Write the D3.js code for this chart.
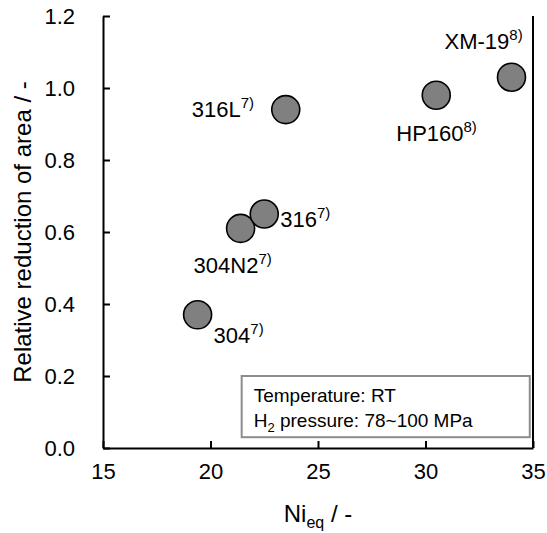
<!DOCTYPE html>
<html>
<head>
<meta charset="utf-8">
<script src="https://cdn.jsdelivr.net/npm/d3@7"></script>
<style>
  body { margin: 0; background: #fff; }
  text { font-family: "Liberation Sans", Arial, sans-serif; fill: #000; }
</style>
</head>
<body>
<div id="content"></div>
<script>
// Data.
var names = ['304', '304N2', '316', '316L', 'HP160', 'XM-19'];
var refs = ['7)', '7)', '7)', '7)', '8)', '8)'];
var nieq = [19.4, 21.4, 22.5, 23.5, 30.5, 34.0];
var rra = [0.37, 0.61, 0.65, 0.94, 0.98, 1.03];
var xTicks = [15, 20, 25, 30, 35];
var yTicks = [0, 0.2, 0.4, 0.6, 0.8, 1.0, 1.2];
var legendLines = ['Temperature: RT', 'H2 pressure: 78~100 MPa'];

// Label offsets relative to the point centre.
var labelPos = {
  '304':   {dx: 16, dy: 28},
  '304N2': {dx: -47, dy: 45},
  '316':   {dx: 16, dy: 13},
  '316L':  {dx: -94, dy: 7},
  'HP160': {dx: -40, dy: 46},
  'XM-19': {dx: -67, dy: -28}
};

var margin = {left : 103, right : 14, top : 16, bottom : 85};
var width = 547 - margin.left - margin.right;
var height = 533 - margin.top - margin.bottom;

var svg = d3.select('#content')
              .append('svg')
              .attr('width', width + margin.left + margin.right)
              .attr('height', height + margin.top + margin.bottom);

var g = svg.append('g').attr('transform', 'translate(' + margin.left + ',' +
                                              margin.top + ')');

var x = d3.scaleLinear().domain([15, 35]).range([0, width]);
var y = d3.scaleLinear().domain([0, 1.2]).range([height, 0]);

// Axes, ticks point inwards.
var xAxis = g.append('g')
    .attr('transform', 'translate(0,' + height + ')')
    .call(d3.axisBottom(x).tickValues(xTicks).tickSizeInner(-7).tickSizeOuter(0)
            .tickPadding(15));
var yAxis = g.append('g')
    .call(d3.axisLeft(y).tickValues(yTicks).tickSizeInner(-7).tickSizeOuter(0)
            .tickPadding(28).tickFormat(d3.format('.1f')));

[xAxis, yAxis].forEach(function(a) {
  a.select('.domain').attr('stroke', '#000').attr('stroke-width', 2);
  a.selectAll('.tick line').attr('stroke', '#000').attr('stroke-width', 2);
  a.selectAll('.tick text').style('font-size', '22px').attr('fill', '#000');
});
xAxis.selectAll('.tick text').attr('dy', '0.71em');

// Right border
g.append('line')
    .attr('x1', width).attr('x2', width)
    .attr('y1', 0).attr('y2', height)
    .attr('stroke', '#000').attr('stroke-width', 2);

// Legend box
var lg = g.append('g');
lg.append('rect')
    .attr('x', x(21.45)).attr('y', y(0.2))
    .attr('width', x(34.85) - x(21.45)).attr('height', y(0.03) - y(0.2))
    .attr('fill', '#fff').attr('stroke', '#8c8c8c').attr('stroke-width', 2);
lg.append('text')
    .attr('x', x(21.45) + 12).attr('y', y(0.2) + 26)
    .style('font-size', '19px')
    .text(legendLines[0]);
var l2 = lg.append('text')
    .attr('x', x(21.45) + 12).attr('y', y(0.2) + 51)
    .style('font-size', '19px');
l2.append('tspan').text('H');
l2.append('tspan').attr('dy', 5).style('font-size', '13px').text('2');
l2.append('tspan').attr('dy', -5).text(legendLines[1].slice(2));

// Points
g.selectAll('circle.pt')
    .data(names)
    .enter().append('circle')
    .attr('class', 'pt')
    .attr('cx', function(d, i) { return x(nieq[i]); })
    .attr('cy', function(d, i) { return y(rra[i]); })
    .attr('r', 14)
    .attr('fill', '#808080')
    .attr('stroke', '#000')
    .attr('stroke-width', 1.6);

// Point labels with reference superscripts
var labels = g.selectAll('text.lbl')
    .data(names)
    .enter().append('text')
    .attr('class', 'lbl')
    .attr('x', function(d, i) { return x(nieq[i]) + labelPos[d].dx; })
    .attr('y', function(d, i) { return y(rra[i]) + labelPos[d].dy; })
    .style('font-size', '22px');
labels.append('tspan').text(function(d) { return d; });
labels.append('tspan')
    .attr('dy', -9)
    .style('font-size', '15px')
    .text(function(d, i) { return refs[i]; });

// Axis titles
var xt = svg.append('text')
    .attr('x', margin.left + width / 2)
    .attr('y', 522)
    .attr('text-anchor', 'middle')
    .style('font-size', '24px');
xt.append('tspan').text('Ni');
xt.append('tspan').attr('dy', 6).style('font-size', '16px').text('eq');
xt.append('tspan').attr('dy', -6).text(' / -');

svg.append('text')
    .attr('transform', 'translate(31,' + (margin.top + height / 2) + ') rotate(-90)')
    .attr('text-anchor', 'middle')
    .style('font-size', '24px')
    .text('Relative reduction of area / -');
</script>
</body>
</html>
